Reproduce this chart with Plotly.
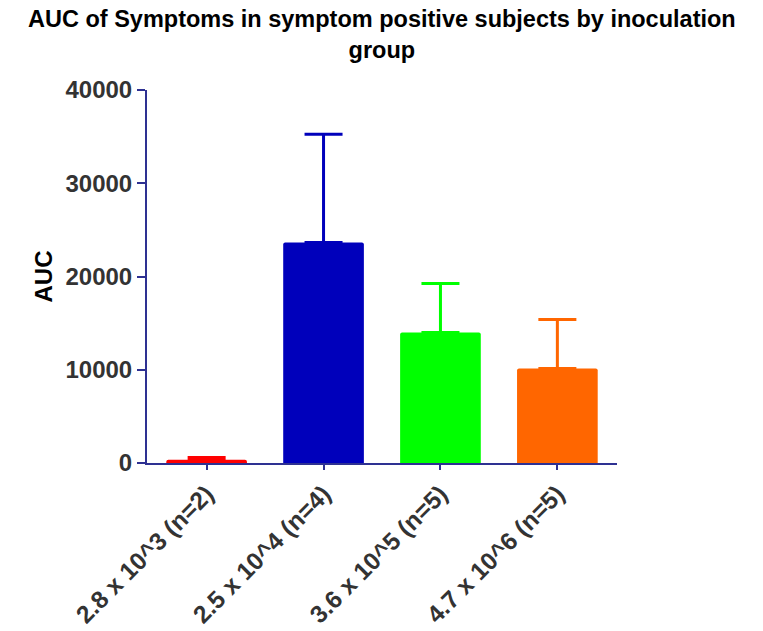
import plotly.graph_objects as go

groups = ["2.8 x 10^3 (n=2)", "2.5 x 10^4 (n=4)", "3.6 x 10^5 (n=5)", "4.7 x 10^6 (n=5)"]
auc_mean = [350, 23650, 14000, 10130]
auc_err = [250, 11600, 5250, 5260]
colors = ["#ff0000", "#0000bb", "#00ff00", "#ff6600"]
y_ticks = [0, 10000, 20000, 30000, 40000]

fig = go.Figure()
for g, m, e, c in zip(groups, auc_mean, auc_err, colors):
    fig.add_trace(go.Bar(
        x=[g], y=[m], width=0.69,
        marker=dict(color=c, line=dict(width=0)),
        error_y=dict(type="data", array=[e], arrayminus=[0], symmetric=False,
                     color=c, thickness=3, width=19),
        showlegend=False,
    ))

axis_col = "#2e3192"
font_fam = "Liberation Sans, Arial, sans-serif"
fig.update_layout(
    width=763, height=631,
    margin=dict(l=139, r=154, t=82, b=176),
    plot_bgcolor="white", paper_bgcolor="white",
    font=dict(family=font_fam, color="#333333"),
    barcornerradius=2,
)
fig.add_annotation(
    text="<b>AUC of Symptoms in symptom positive subjects by inoculation<br>group</b>",
    xref="paper", yref="paper", x=0.5, y=1, xanchor="center", yanchor="bottom",
    yshift=25, showarrow=False, font=dict(size=23.5, color="black", family=font_fam),
)
fig.update_xaxes(
    range=[-0.51, 3.51], showline=True, linecolor=axis_col, linewidth=2,
    ticks="outside", tickcolor=axis_col, tickwidth=2, ticklen=5,
    tickangle=-45, tickfont=dict(size=24.5, color="#333333"),
    tickvals=groups, ticktext=["<b>%s</b>" % g for g in groups],
    showgrid=False, automargin=False,
)
fig.update_yaxes(
    range=[0, 40000], tickvals=y_ticks, ticktext=["<b>%d</b>" % v for v in y_ticks],
    showline=True, linecolor=axis_col, linewidth=2,
    ticks="outside", tickcolor=axis_col, tickwidth=2, ticklen=8,
    tickfont=dict(size=24, color="#333333"),
    showgrid=False, zeroline=False, automargin=False,
    title=dict(text="<b>AUC</b>", font=dict(size=24, color="black"), standoff=6),
)

fig.write_html("out.html")
